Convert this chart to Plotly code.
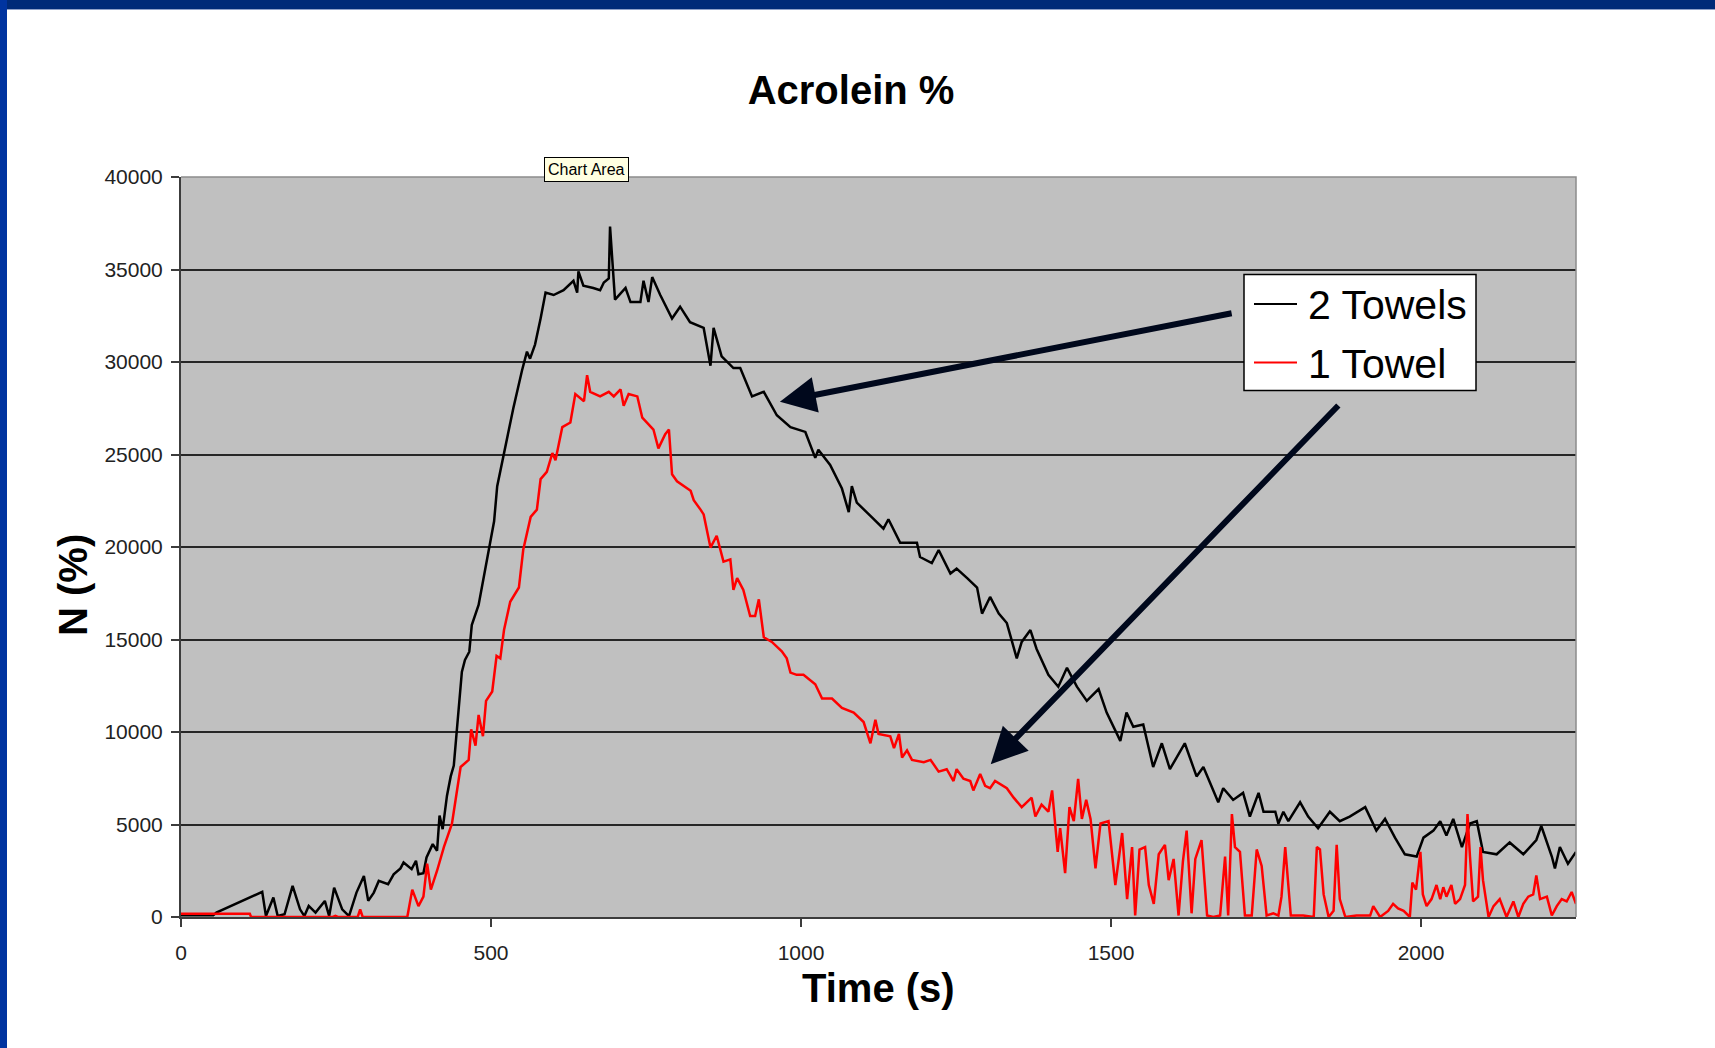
import plotly.graph_objects as go

# ---------------- data ----------------
t2 = [0, 52, 57, 131, 137, 149, 156, 167, 180, 192, 199, 206, 217, 232, 239, 247, 260, 271, 283, 295,
      302, 311, 319, 334, 343, 354, 359, 372, 379, 383, 391, 396, 406, 413, 417, 422, 429, 435, 440, 447,
      453, 458, 465, 469, 480, 487, 498, 505, 510, 523, 536, 550, 558, 563, 571, 580, 588, 601, 617, 633,
      639, 641, 649, 665, 676, 682, 690, 692, 697, 700, 717, 725, 741, 746, 754, 760, 773, 792, 805, 821,
      843, 854, 859, 872, 891, 902, 921, 940, 961, 983, 1007, 1023, 1028, 1047, 1066, 1077, 1082, 1090, 1112, 1133,
      1141, 1160, 1187, 1192, 1211, 1222, 1241, 1251, 1268, 1284, 1292, 1305, 1319, 1332, 1348, 1356, 1370, 1380, 1399, 1415,
      1429, 1445, 1461, 1480, 1493, 1515, 1525, 1536, 1552, 1568, 1582, 1595, 1619, 1638, 1649, 1673, 1681, 1697, 1713, 1724,
      1738, 1746, 1765, 1770, 1778, 1786, 1805, 1818, 1834, 1853, 1869, 1885, 1910, 1928, 1942, 1958, 1974, 1993, 2004, 2020,
      2031, 2041, 2052, 2066, 2079, 2090, 2100, 2122, 2143, 2165, 2186, 2194, 2211, 2216, 2224, 2237, 2250]
towels2 = [90, 90, 235, 1360, 50, 1050, 50, 145, 1680, 415, 50, 600, 235, 870, 50, 1590, 415, 50, 1320, 2220,
           870, 1320, 1950, 1770, 2310, 2630, 2950, 2590, 3040, 2310, 2370, 3220, 3940, 3580, 5480, 4750, 6560, 7600, 8190, 10720,
           13250, 13890, 14340, 15780, 16870, 18130, 20120, 21390, 23290, 25460, 27500, 29540, 30560, 30180, 30940, 32350, 33750, 33620, 33880, 34390,
           33750, 34900, 34130, 34000, 33880, 34300, 34520, 37320, 34640, 33370, 34000, 33240, 33240, 34390, 33240, 34590, 33620, 32350, 32990, 32150,
           31840, 29800, 31840, 30310, 29670, 29670, 28140, 28390, 27120, 26480, 26220, 24820, 25260, 24440, 23160, 21890, 23290, 22400, 21680, 20990,
           21500, 20230, 20230, 19460, 19130, 19840, 18570, 18830, 18320, 17810, 16400, 17300, 16400, 15890, 13980, 14870, 15510, 14490, 13090, 12450,
           13470, 12450, 11680, 12320, 11050, 9520, 11050, 10280, 10410, 8110, 9390, 7990, 9390, 7600, 8110, 6200, 6960, 6330, 6710, 5430,
           6710, 5690, 5690, 5050, 5690, 5180, 6200, 5430, 4800, 5690, 5180, 5430, 5940, 4670, 5300, 4290, 3390, 3270, 4290, 4670,
           5180, 4410, 5300, 3780, 5050, 5180, 3520, 3390, 4030, 3390, 4160, 4920, 3270, 2630, 3780, 2880, 3520]

t1 = [0, 60, 111, 113, 245, 249, 253, 285, 289, 293, 365, 373, 383, 391, 397, 403, 413, 424, 437, 451,
      464, 468, 475, 480, 487, 492, 502, 509, 515, 521, 531, 545, 552, 564, 574, 580, 590, 599, 604, 615,
      628, 636, 650, 655, 660, 676, 690, 698, 709, 714, 722, 736, 744, 762, 770, 781, 787, 792, 800, 822,
      827, 838, 843, 854, 864, 875, 886, 891, 897, 907, 918, 926, 932, 940, 953, 969, 977, 983, 993, 1004,
      1023, 1034, 1050, 1066, 1085, 1101, 1112, 1120, 1125, 1144, 1150, 1158, 1163, 1171, 1179, 1198, 1209, 1222, 1235, 1246,
      1251, 1262, 1273, 1278, 1289, 1297, 1305, 1313, 1332, 1343, 1356, 1372, 1378, 1388, 1399, 1405, 1410, 1414, 1418, 1426,
      1433, 1440, 1447, 1453, 1460, 1467, 1475, 1483, 1496, 1507, 1518, 1526, 1534, 1539, 1546, 1555, 1561, 1569, 1577, 1587,
      1593, 1601, 1609, 1616, 1622, 1630, 1636, 1646, 1655, 1665, 1676, 1684, 1689, 1695, 1700, 1708, 1716, 1727, 1735, 1743,
      1751, 1762, 1770, 1775, 1781, 1786, 1790, 1810, 1827, 1832, 1837, 1843, 1851, 1859, 1864, 1869, 1878, 1896, 1918, 1923,
      1934, 1947, 1955, 1963, 1972, 1982, 1986, 1992, 1996, 1999, 2003, 2009, 2017, 2025, 2031, 2036, 2041, 2049, 2055, 2063,
      2071, 2075, 2079, 2084, 2092, 2096, 2100, 2109, 2117, 2127, 2138, 2149, 2157, 2165, 2173, 2181, 2186, 2192, 2203, 2211,
      2219, 2227, 2235, 2243, 2250]
towel1 = [180, 180, 180, 0, 0, 60, 0, 0, 415, 0, 0, 1480, 590, 1100, 2880, 1480, 2500, 3780, 5050, 8110,
          8490, 10150, 9260, 10920, 9770, 11680, 12190, 14110, 13980, 15510, 17040, 17810, 19850, 21630, 22020, 23670, 24060, 25080, 24690, 26480,
          26730, 28270, 27880, 29290, 28390, 28140, 28390, 28140, 28520, 27630, 28270, 28140, 26990, 26350, 25330, 26100, 26350, 23930, 23550, 23040,
          22530, 22020, 21760, 19970, 20610, 19210, 19330, 17680, 18320, 17680, 16270, 16270, 17170, 15120, 14870, 14360, 13980, 13210, 13090, 13090,
          12580, 11810, 11810, 11300, 11050, 10540, 9390, 10660, 9900, 9770, 9130, 9900, 8620, 9010, 8490, 8370, 8490, 7860, 7990, 7350,
          7990, 7470, 7350, 6840, 7730, 7090, 6960, 7350, 6960, 6450, 5940, 6450, 5430, 6070, 5690, 6840, 5050, 3520, 4800, 2370,
          5940, 5180, 7470, 5300, 6330, 5300, 2630, 5050, 5180, 1730, 4540, 970, 3780, 80, 3650, 3780, 1730, 710, 3390, 3900,
          1990, 3140, 80, 3010, 4670, 200, 3140, 4160, 80, 0, 80, 3270, 80, 5560, 3780, 3520, 80, 80, 3650, 2760,
          80, 200, 80, 1100, 3780, 1730, 80, 80, 0, 3780, 3650, 1220, 0, 330, 3900, 970, 0, 80, 80, 590,
          0, 330, 710, 460, 330, 0, 1860, 1480, 2500, 3520, 1220, 590, 970, 1730, 970, 1610, 1100, 1730, 710, 970,
          1730, 5560, 3270, 840, 1100, 3780, 1990, 0, 590, 970, 0, 840, 0, 710, 1100, 1220, 2250, 970, 1100, 80,
          590, 970, 840, 1350, 710]

series_names = ["2 Towels", "1 Towel"]
series_colors = ["#000000", "#FF0000"]
x_ticks = [0, 500, 1000, 1500, 2000]
y_ticks = [0, 5000, 10000, 15000, 20000, 25000, 30000, 35000, 40000]

# arrows: (tail x, tail y, head x, head y) in data units
arrows = [(1697, 32650, 966, 27850), (1869, 27730, 1306, 8260)]

# ---------------- figure ----------------
W, H = 1715, 1048
ML, MR, MT, MB = 181, 139, 177, 131
PW, PH = W - ML - MR, H - MT - MB


def px(xp):
    return (xp - ML) / PW


def py(yp):
    return (H - MB - yp) / PH


FONT = "Liberation Sans, Arial, sans-serif"

fig = go.Figure()
fig.add_trace(go.Scatter(x=t2, y=towels2, mode="lines", name=series_names[0], showlegend=False,
                         line=dict(color=series_colors[0], width=2.5)))
fig.add_trace(go.Scatter(x=t1, y=towel1, mode="lines", name=series_names[1], showlegend=False,
                         line=dict(color=series_colors[1], width=2.5)))

annotations = []
for (tx, ty, hx, hy) in arrows:
    annotations.append(dict(x=hx, y=hy, ax=tx, ay=ty, xref="x", yref="y", axref="x", ayref="y",
                            text="", showarrow=True, arrowhead=2, arrowsize=1.2, arrowwidth=6,
                            arrowcolor="#00081C", standoff=0))

annotations += [
    dict(text="<b>Time (s)</b>", xref="paper", yref="paper", x=px(878), y=py(988),
         xanchor="center", yanchor="middle", showarrow=False,
         font=dict(family=FONT, size=40, color="#000000")),
    dict(text="<b>N (%)</b>", xref="paper", yref="paper", x=px(73), y=py(585),
         xanchor="center", yanchor="middle", showarrow=False, textangle=-90,
         font=dict(family=FONT, size=40, color="#000000")),
    dict(text="Chart Area", xref="paper", yref="paper", x=px(586.5), y=py(169.5),
         xanchor="center", yanchor="middle", showarrow=False,
         bgcolor="#FFFFE1", bordercolor="#000000", borderwidth=1, borderpad=3,
         font=dict(family=FONT, size=16, color="#000000")),
]

shapes = [
    # top & right plot border (grey)
    dict(type="path", xref="paper", yref="paper", path="M 0 1 L 1 1 L 1 0",
         line=dict(color="#8C8C8C", width=1.5), layer="above"),
    # slide frame: top band and left band
    dict(type="rect", xref="paper", yref="paper", x0=px(0), x1=px(W), y0=py(9), y1=py(0),
         fillcolor="#002A78", line=dict(width=0), layer="above"),
    dict(type="line", xref="paper", yref="paper", x0=px(0), x1=px(W), y0=py(9.5), y1=py(9.5),
         line=dict(color="#8FA0C8", width=1), layer="above"),
    dict(type="rect", xref="paper", yref="paper", x0=px(0), x1=px(7), y0=py(H), y1=py(0),
         fillcolor="#0034A0", line=dict(width=0), layer="above"),
    # legend box
    dict(type="rect", xref="paper", yref="paper", x0=px(1244), x1=px(1476), y0=py(390.5), y1=py(274.5),
         fillcolor="#FFFFFF", line=dict(color="#000000", width=1.5), layer="above"),
]

# legend entries (drawn manually to match the Excel legend layout)
legend_rows_y = [304, 362.5]
for name, col, ly in zip(series_names, series_colors, legend_rows_y):
    shapes.append(dict(type="line", xref="paper", yref="paper", x0=px(1254), x1=px(1297),
                       y0=py(ly), y1=py(ly), line=dict(color=col, width=2), layer="above"))
    annotations.append(dict(text=name, xref="paper", yref="paper", x=px(1306), y=py(ly + 1),
                            xanchor="left", yanchor="middle", showarrow=False,
                            font=dict(family=FONT, size=41, color="#000000")))

fig.update_layout(
    width=W, height=H,
    margin=dict(l=ML, r=MR, t=MT, b=MB, pad=0),
    paper_bgcolor="#FFFFFF", plot_bgcolor="#C0C0C0",
    title=dict(text="<b>Acrolein %</b>", x=851 / W, xref="container", xanchor="center",
               y=1 - 90 / H, yref="container", yanchor="middle",
               font=dict(family=FONT, size=40, color="#000000")),
    xaxis=dict(range=[0, 2250], tickvals=x_ticks, ticktext=[str(v) for v in x_ticks],
               showgrid=False, zeroline=False, showline=True, linecolor="#3C3C3C", linewidth=2,
               ticks="outside", ticklen=8, tickwidth=1.5, tickcolor="#3C3C3C",
               ticklabelstandoff=8,
               tickfont=dict(family=FONT, size=21, color="#222222")),
    yaxis=dict(range=[0, 40000], tickvals=y_ticks, ticktext=[str(v) for v in y_ticks],
               showgrid=True, gridcolor="#262626", gridwidth=1.5,
               zeroline=False, showline=True, linecolor="#3C3C3C", linewidth=2,
               ticks="outside", ticklen=8, tickwidth=1.5, tickcolor="#3C3C3C",
               ticklabelstandoff=4,
               tickfont=dict(family=FONT, size=21, color="#222222")),
    showlegend=False,
    annotations=annotations,
    shapes=shapes,
    hovermode=False,
)

fig.write_html("out.html")
